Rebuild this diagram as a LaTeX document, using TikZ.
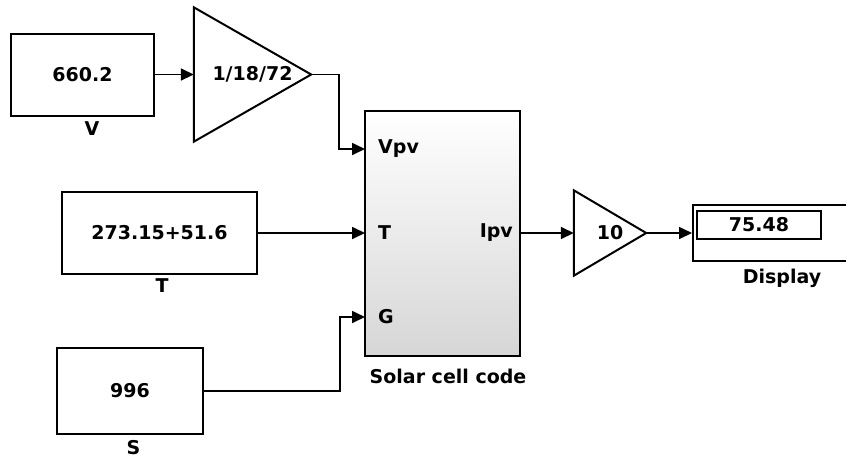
\documentclass[tikz,border=0pt]{standalone}
\usepackage{fontspec}
\setmainfont{DejaVu Sans}
\usepackage{tikz}
\usetikzlibrary{arrows.meta,positioning,calc}

\begin{document}
\begin{tikzpicture}[x=1pt, y=-1pt,
    font=\fontsize{19}{21}\selectfont\bfseries,
    block/.style={rectangle, draw=black, line width=2pt, inner sep=0pt},
    gainblock/.style={rectangle, inner sep=0pt},
    gainedge/.style={draw=black, line width=2pt, line join=miter},
    port/.style={inner sep=0pt},
    wire/.style={-{Triangle[length=13pt, width=12pt]}, line width=1.7pt}
]
    \clip (0,0) rectangle (846,459);
    \fill[white] (0,0) rectangle (846,459);
    % sources
    \node[block, minimum width=143, minimum height=82] (vconst) at (82.5,74.5) {660.2};
    \node[port] (vlabel) at (92,129) {V};
    \node[block, minimum width=195, minimum height=82] (tconst) at (159.5,233) {273.15+51.6};
    \node[port] (tlabel) at (162,286) {T};
    \node[block, minimum width=146, minimum height=86] (sconst) at (130,391) {996};
    \node[port] (slabel) at (133.5,448) {S};
    % gain 1/18/72
    \node[gainblock, minimum width=117, minimum height=134] (vgain) at (252.5,74.5) {1/18/72};
    \draw[gainedge] (vgain.north west) -- (vgain.east) -- (vgain.south west) -- cycle;
    % solar cell block
    \node[block, minimum width=155, minimum height=245, top color=white,
        bottom color=black!16] (solar) at (442.5,233.5) {};
    \node[port, anchor=west] (pvpv) at (378,149) {Vpv};
    \node[port, anchor=west] (pt) at (378,233) {T};
    \node[port, anchor=west] (pg) at (378,317) {G};
    \node[port, anchor=east] (pipv) at (513,233) {Ipv};
    \node[port] (solarlabel) at (448,376) {Solar cell code};
    \coordinate (inV) at (365,149);
    \coordinate (inT) at (365,233);
    \coordinate (inG) at (365,317);
    \coordinate (outI) at (520,233);
    % gain 10 and display
    \node[gainblock, minimum width=72, minimum height=85] (igain) at (610,233) {10};
    \draw[gainedge] (igain.north west) -- (igain.east) -- (igain.south west) -- cycle;
    \node[block, anchor=west, minimum width=180, minimum height=56] (disp) at (692,233) {};
    \node[block, minimum width=124, minimum height=28] (dispval) at (759,225) {75.48};
    \node[port] (displabel) at (782,278) {Display};
    % connections
    \draw[wire] (vconst.east) -- (vgain.west);
    \draw[wire] (vgain.east) -- ++(28,0) |- (inV);
    \draw[wire] (tconst.east) -- (inT);
    \draw[wire] (sconst.east) -- ++(136,0) |- (inG);
    \draw[wire] (outI) -- (igain.west);
    \draw[wire] (igain.east) -- (disp.west);
\end{tikzpicture}
\end{document}
